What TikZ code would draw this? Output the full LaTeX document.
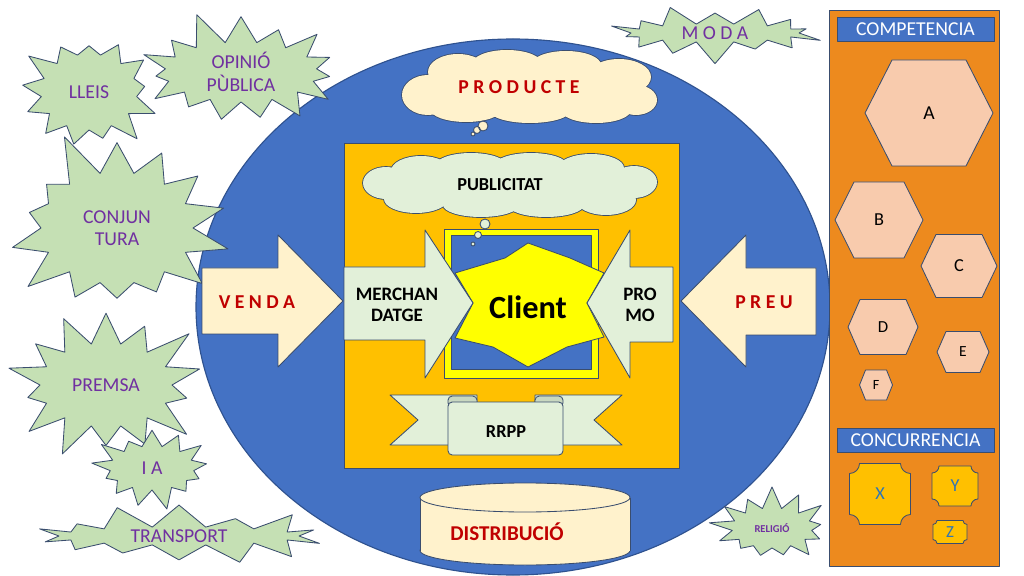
\documentclass[tikz,border=0pt]{standalone}
\usepackage{fontspec}
\setmainfont{Carlito}
\usetikzlibrary{shapes.symbols,shapes.geometric}
\definecolor{ovalblue}{HTML}{4472C4}
\definecolor{ovalline}{HTML}{2F528F}
\definecolor{edge}{HTML}{3A4D6E}
\definecolor{burstgreen}{HTML}{C5E0B4}
\definecolor{txtpurple}{HTML}{7030A0}
\definecolor{txtred}{HTML}{C00000}
\definecolor{txtblue}{HTML}{2E75B6}
\definecolor{cream}{HTML}{FFF2CC}
\definecolor{palegreen}{HTML}{E2F0D9}
\definecolor{curlgreen}{HTML}{C9D8C0}
\definecolor{gold}{HTML}{FFC000}
\definecolor{lemon}{HTML}{FFFF00}
\definecolor{panelorange}{HTML}{ED8A1E}
\definecolor{hexpink}{HTML}{F8CBAD}
% cloud puffs: centre x/centre y/x radius/y radius
\def\productepuffs{428/95/26/20, 458/72/30/18, 507/64/35/14, 566/65/35/14, 619/77/32/18,
  636/100/21/15, 596/110/35/13, 530/111/40/12, 466/109/36/13, 530/88/110/26}
\def\publipuffs{386/183/23/16, 421/171/30/15, 471/165/35/12, 531/165/36/12, 591/168/33/14,
  634/182/23/16, 606/200/30/15, 546/205/38/12, 481/205/38/12, 416/199/32/14, 510/186/125/22}
\tikzset{
  every picture/.style={line join=round},
  shapeline/.style={draw=edge, line width=0.6pt},
  puffline/.style={draw=edge, line width=1.2pt},
  burst/.style={starburst, shapeline, fill=burstgreen, text=txtpurple,
    inner sep=0pt, align=center, font=\fontsize{14}{16}\selectfont},
  bar/.style={shapeline, fill=ovalblue, text=white, inner sep=0pt,
    minimum width=3.925cm, minimum height=0.6cm, font=\fontsize{14}{15}\selectfont},
  boldlabel/.style={font=\fontsize{13.5}{15}\selectfont\bfseries, align=center},
}
\begin{document}
\begin{tikzpicture}[x=0.025cm, y=-0.025cm]
    \useasboundingbox (0,0) rectangle (1024,576);

    % Market oval
    \draw[fill=ovalblue, draw=ovalline, line width=0.8pt] (513,307) ellipse (317 and 268);

    % Outside influences
    \node[burst, minimum width=3.7cm, minimum height=3.2cm, starburst points=13,
      starburst point height=0.65cm, random starburst=3] (lleis) at (89,92) {LLEIS};
    \node[burst, minimum width=5.5cm, minimum height=3.2cm, starburst points=15,
      starburst point height=0.85cm, random starburst=11] (opinio) at (241,72) {OPINIÓ\\PÙBLICA};
    \node[burst, minimum width=6.2cm, minimum height=5.2cm, starburst points=14,
      starburst point height=1.2cm, random starburst=5] (conjuntura) at (117,228) {CONJUN\\TURA};
    \node[burst, minimum width=5.5cm, minimum height=4.3cm, starburst points=14,
      starburst point height=1.1cm, random starburst=8] (premsa) at (106,385) {PREMSA};
    \node[burst, minimum width=3.2cm, minimum height=2.2cm, starburst points=13,
      starburst point height=0.55cm, random starburst=21] (ia) at (152,468) {I A};
    \node[burst, minimum width=7.3cm, minimum height=1.65cm, starburst points=14,
      starburst point height=0.65cm, random starburst=4] (transport) at (179,536) {TRANSPORT};
    \node[burst, minimum width=5.4cm, minimum height=1.6cm, starburst points=14,
      starburst point height=0.6cm, random starburst=9] (moda) at (715,33) {M O D A};
    \node[burst, minimum width=3.2cm, minimum height=2.2cm, starburst points=13,
      starburst point height=0.6cm, random starburst=17,
      font=\fontsize{7.5}{8}\selectfont\bfseries] (religio) at (772,528) {RELIGIÓ};

    % Product cloud
    \foreach \pa/\pb/\pc/\pd in \productepuffs
      {\draw[puffline] (\pa,\pb) ellipse [x radius=\pc, y radius=\pd];}
    \foreach \pa/\pb/\pc/\pd in \productepuffs
      {\fill[cream] (\pa,\pb) ellipse [x radius=\pc, y radius=\pd];}
    \node[text=txtred, font=\fontsize{14}{16}\selectfont\bfseries] (producte) at (519,87) {P R O D U C T E};
    \draw[shapeline, fill=cream] (483,126) circle (5) (477,130) circle (3.5) (473,134) circle (2);

    % Marketing mix box
    \draw[shapeline, fill=gold] (344,143) rectangle (679,468);
    \foreach \pa/\pb/\pc/\pd in \publipuffs
      {\draw[puffline] (\pa,\pb) ellipse [x radius=\pc, y radius=\pd];}
    \foreach \pa/\pb/\pc/\pd in \publipuffs
      {\fill[palegreen] (\pa,\pb) ellipse [x radius=\pc, y radius=\pd];}
    \node[font=\fontsize{13}{15}\selectfont\bfseries] (publicitat) at (500,185) {PUBLICITAT};
    \draw[shapeline, fill=lemon] (444,229) rectangle (598,378);
    \draw[shapeline, fill=ovalblue] (451,235) rectangle (591,369);
    \draw[shapeline, fill=palegreen] (485,224) circle (5) (478,235) circle (3.5) (473,244) circle (2);

    % Client
    \draw[shapeline, fill=lemon] (528,243) -- (570,258) -- (604,273) -- (587,303) -- (604,337)
      -- (567,347) -- (528,367) -- (493,347) -- (455,338) -- (473,303) -- (455,273)
      -- (505,258) -- cycle;
    \node[font=\fontsize{23}{25}\selectfont\bfseries] (client) at (528,307) {Client};

    % Arrows
    \draw[shapeline, fill=palegreen] (344,267) -- (425,267) -- (425,230) -- (473,303)
      -- (425,378) -- (425,340) -- (344,340) -- cycle;
    \node[boldlabel] (merch) at (397,305) {MERCHAN\\DATGE};
    \draw[shapeline, fill=palegreen] (673,267) -- (630,267) -- (630,230) -- (587,303)
      -- (630,378) -- (630,342) -- (673,342) -- cycle;
    \node[boldlabel] (promo) at (640,305) {PRO\\MO};
    \draw[shapeline, fill=cream] (202,268) -- (278,268) -- (278,235) -- (343,301)
      -- (278,367) -- (278,334) -- (202,334) -- cycle;
    \node[text=txtred, font=\fontsize{14}{16}\selectfont\bfseries] (venda) at (257,302) {V E N D A};
    \draw[shapeline, fill=cream] (816,268) -- (746,268) -- (746,235) -- (681,301)
      -- (746,367) -- (746,335) -- (816,335) -- cycle;
    \node[text=txtred, font=\fontsize{14}{16}\selectfont\bfseries] (preu) at (764,302) {P R E U};

    % RRPP ribbon
    \draw[shapeline, fill=palegreen] (390,395) -- (477,395) -- (477,445) -- (390,445) -- (418,420) -- cycle;
    \draw[shapeline, fill=palegreen] (622,395) -- (535,395) -- (535,445) -- (622,445) -- (594,420) -- cycle;
    \draw[shapeline, fill=curlgreen, rounded corners=3] (448,396) rectangle (477,407);
    \draw[shapeline, fill=curlgreen, rounded corners=3] (535,396) rectangle (563,407);
    \draw[shapeline, fill=palegreen, rounded corners=3] (448,402) rectangle (563,455);
    \node[font=\fontsize{13}{15}\selectfont\bfseries] (rrpp) at (506,432) {RRPP};

    % Distribution
    \draw[shapeline, fill=cream] (525,550.5) ellipse (105 and 14.5);
    \fill[cream] (420,497.5) rectangle (630,550.5);
    \draw[shapeline] (420,497.5) -- (420,550.5) (630,497.5) -- (630,550.5);
    \draw[shapeline, fill=cream] (525,497.5) ellipse (105 and 14.5);
    \node[text=txtred, font=\fontsize{15}{17}\selectfont\bfseries] (distrib) at (507,532) {DISTRIBUCIÓ};

    % Competition panel
    \draw[shapeline, fill=panelorange] (829,10) rectangle (999,566);
    \node[bar] (competencia) at (915.5,29) {COMPETENCIA};
    \foreach \n/\cx/\cy/\w/\h/\i/\fs in {A/929/113/128/106/27/14, B/879/220/88/76/19/13,
        C/959/266/76/63/15/13, D/883/327/70/55/12/12, E/963/352/52/41/9/11, F/876/385/33/30/6/10}{
      \draw[shapeline, fill=hexpink] (\cx-\w/2,\cy) -- (\cx-\w/2+\i,\cy-\h/2)
        -- (\cx+\w/2-\i,\cy-\h/2) -- (\cx+\w/2,\cy) -- (\cx+\w/2-\i,\cy+\h/2)
        -- (\cx-\w/2+\i,\cy+\h/2) -- cycle;
      \node[font=\fontsize{\fs}{\fs}\selectfont] (hex\n) at (\cx,\cy) {\n};
    }
    \node[bar] (concurrencia) at (915.5,440.5) {CONCURRENCIA};
    \foreach \n/\cx/\cy/\w/\h/\r/\fs in {X/880/494/61/61/10/13, Y/955/486/46/40/7/13, Z/950/532/34/23/4/12}{
      \pgfmathsetmacro\xl{\cx-\w/2} \pgfmathsetmacro\xr{\cx+\w/2}
      \pgfmathsetmacro\yt{\cy-\h/2} \pgfmathsetmacro\yb{\cy+\h/2}
      \draw[shapeline, fill=gold] (\xl+\r,\yt) -- (\xr-\r,\yt) arc[start angle=180, end angle=90, radius=\r]
        -- (\xr,\yb-\r) arc[start angle=270, end angle=180, radius=\r]
        -- (\xl+\r,\yb) arc[start angle=0, end angle=-90, radius=\r]
        -- (\xl,\yt+\r) arc[start angle=90, end angle=0, radius=\r] -- cycle;
      \node[text=txtblue, font=\fontsize{\fs}{\fs}\selectfont] (plaque\n) at (\cx,\cy) {\n};
    }
\end{tikzpicture}
\end{document}
